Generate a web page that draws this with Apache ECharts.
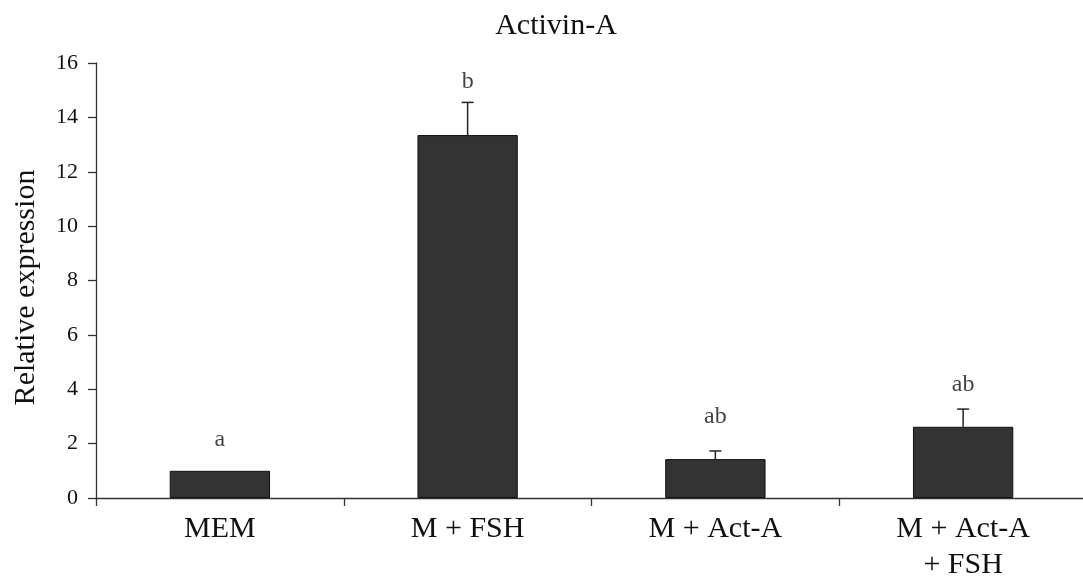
<!DOCTYPE html>
<html>
<head>
<meta charset="utf-8">
<script src="https://cdn.jsdelivr.net/npm/echarts@6/dist/echarts.min.js"></script>
<style>html,body{margin:0;padding:0;background:#fff}#c{width:1083px;height:581px}</style>
</head>
<body>
<div id="c"></div>
<script>
var categories = ['MEM', 'M + FSH', 'M + Act-A', 'M + Act-A\n+ FSH'];
var values = [1.0, 13.35, 1.43, 2.62];
var errors = [0, 1.2, 0.3, 0.65];
var letters = ['a', 'b', 'ab', 'ab'];
var letterY = [2.13, 15.3, 3.0, 4.15];
var yTicks = [0, 2, 4, 6, 8, 10, 12, 14, 16];

var font = '"Liberation Serif", "Times New Roman", serif';
var chart = echarts.init(document.getElementById('c'));
chart.setOption({
  animation: false,
  title: {
    text: 'Activin-A', left: 551, top: 6, textAlign: 'center',
    textStyle: {fontFamily: font, fontSize: 30, fontWeight: 'normal', color: '#111'}
  },
  grid: {left: 96, width: 991, top: 63, bottom: 83, outerBoundsMode: 'none', containLabel: false},
  xAxis: {
    type: 'category', data: categories,
    axisLine: {lineStyle: {color: '#333', width: 1.3}},
    axisTick: {show: true, length: 8, lineStyle: {color: '#333', width: 1.3}},
    axisLabel: {fontFamily: font, fontSize: 30, color: '#111', margin: 13, lineHeight: 36}
  },
  yAxis: {
    type: 'value', min: yTicks[0], max: yTicks[yTicks.length - 1], interval: 2,
    name: 'Relative expression', nameLocation: 'middle', nameGap: 55, nameRotate: 90,
    nameTextStyle: {fontFamily: font, fontSize: 30, color: '#111', padding: [0, 14, 0, 0]},
    axisLine: {show: true, lineStyle: {color: '#333', width: 1.3}},
    axisTick: {show: true, length: 8, lineStyle: {color: '#333', width: 1.3}},
    axisLabel: {fontFamily: font, fontSize: 22, color: '#111', margin: 18},
    splitLine: {show: false}
  },
  series: [
    {
      type: 'bar', data: values, barWidth: '40.5%',
      itemStyle: {color: '#333333', borderColor: '#111', borderWidth: 1}
    },
    {
      type: 'custom',
      data: values.map(function (v, i) { return [i, v, v + errors[i]]; }),
      renderItem: function (params, api) {
        var i = api.value(0);
        if (errors[i] <= 0) return null;
        var p0 = api.coord([i, api.value(1)]);
        var p1 = api.coord([i, api.value(2)]);
        var hw = 6;
        var st = {stroke: '#222', lineWidth: 1.5};
        return {
          type: 'group', children: [
            {type: 'line', shape: {x1: p0[0], y1: p0[1], x2: p1[0], y2: p1[1]}, style: st},
            {type: 'line', shape: {x1: p1[0] - hw, y1: p1[1], x2: p1[0] + hw, y2: p1[1]}, style: st}
          ]
        };
      },
      z: 5
    },
    {
      type: 'scatter', symbolSize: 0,
      data: letterY.map(function (y, i) { return [i, y]; }),
      label: {
        show: true, position: 'inside',
        formatter: function (p) { return letters[p.dataIndex]; },
        fontFamily: font, fontSize: 24, color: '#111'
      }
    }
  ]
});
</script>
</body>
</html>
